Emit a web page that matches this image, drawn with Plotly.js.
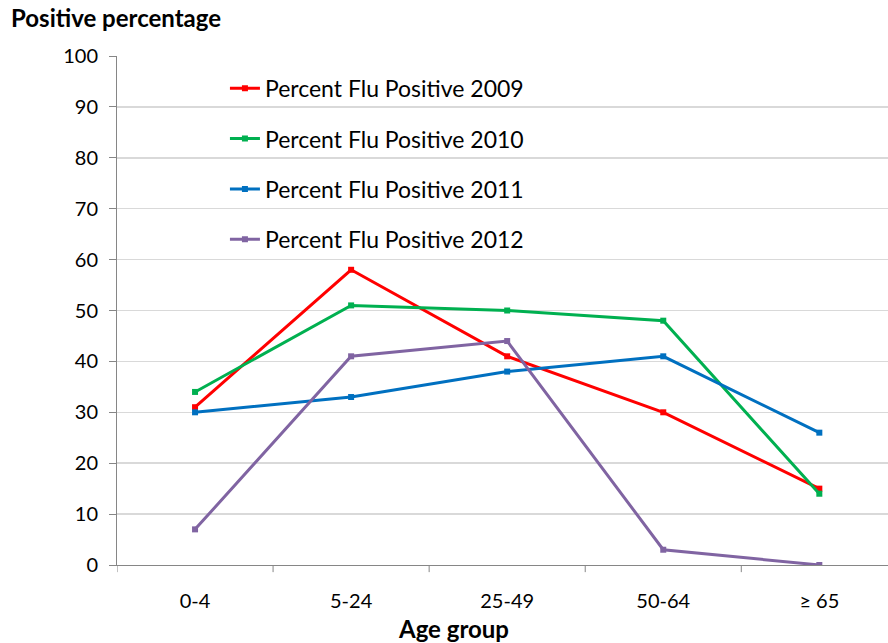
<!DOCTYPE html>
<html><head><meta charset="utf-8">
<script src="https://cdn.plot.ly/plotly-3.0.1.min.js"></script>
<style>html,body{margin:0;padding:0;background:#fff;overflow:hidden}#chart{width:888px;height:643px}</style>
</head><body><div id="chart"></div>
<script>
const categories = ["0-4", "5-24", "25-49", "50-64", "≥ 65"];
const seriesNames = ["Percent Flu Positive 2009", "Percent Flu Positive 2010", "Percent Flu Positive 2011", "Percent Flu Positive 2012"];
const flu2009 = [31, 58, 41, 30, 15];
const flu2010 = [34, 51, 50, 48, 14];
const flu2011 = [30, 33, 38, 41, 26];
const flu2012 = [7, 41, 44, 3, 0];
const yTicks = [0, 10, 20, 30, 40, 50, 60, 70, 80, 90, 100];
const colors = ["#FF0000", "#00B050", "#0070C0", "#8064A2"];
const allSeries = [flu2009, flu2010, flu2011, flu2012];

const FONT = "Lato, 'Open Sans', sans-serif";
const traces = allSeries.map((vals, i) => ({
  type: "scatter", mode: "lines+markers",
  x: categories.map((c, j) => j), y: vals,
  name: seriesNames[i], legendgroup: "g" + i,
  line: {color: colors[i], width: 3},
  marker: {color: colors[i], size: 6, symbol: "square"}
}));

const layout = {
  width: 888, height: 643,
  margin: {l: 117, r: 0, t: 56, b: 78},
  paper_bgcolor: "#fff", plot_bgcolor: "#fff",
  font: {family: FONT, size: 20, color: "#000"},
  showlegend: true,
  legend: {x: 0.14, y: 0.979, xanchor: "left", yanchor: "top", traceorder: "grouped",
    tracegroupgap: 17.5, font: {family: FONT, size: 23, color: "#000"}, itemwidth: 30, bgcolor: "rgba(0,0,0,0)"},
  xaxis: {
    range: [-0.5, 4.44], tickmode: "array", tickvals: [0,1,2,3,4], ticktext: categories,
    showgrid: false, zeroline: false, showline: true, linecolor: "#868686", linewidth: 1,
    ticks: "", tickfont: {family: FONT, size: 20}, ticklabelstandoff: 18, fixedrange: true
  },
  yaxis: {
    range: [0, 100], tickmode: "array", tickvals: yTicks,
    showgrid: true, gridcolor: "#D9D9D9", gridwidth: 1.5, zeroline: false,
    showline: true, linecolor: "#868686", linewidth: 1,
    ticks: "outside", ticklen: 7, tickcolor: "#868686", tickfont: {family: FONT, size: 20},
    ticklabelstandoff: 7
  },
  shapes: [0,1,2,3,4,5].map(k => ({
    type: "line", xref: "x", yref: "paper", x0: k - 0.5, x1: k - 0.5, y0: 0, y1: -0.014,
    line: {color: "#868686", width: 1}
  })),
  annotations: [
    {text: "<b>Positive percentage</b>", xref: "paper", yref: "paper", x: -0.14, y: 1.075,
     xanchor: "left", yanchor: "middle", showarrow: false, font: {family: FONT, size: 24}},
    {text: "<b>Age group</b>", xref: "paper", yref: "paper", x: 0.436, y: -0.124,
     xanchor: "center", yanchor: "middle", showarrow: false, font: {family: FONT, size: 24}}
  ]
};
Plotly.newPlot("chart", traces, layout, {displayModeBar: false, staticPlot: true});
</script></body></html>
